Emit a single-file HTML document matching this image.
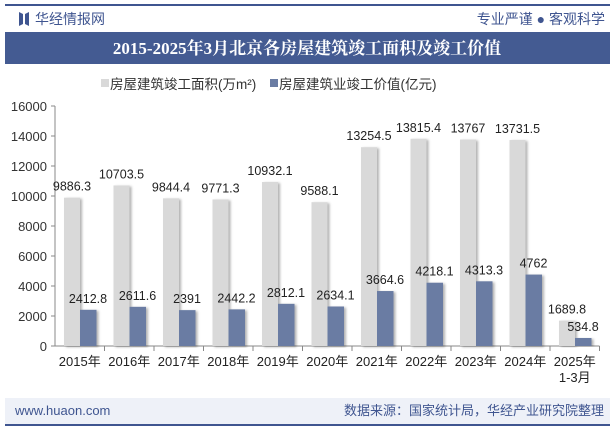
<!DOCTYPE html>
<html><head><meta charset="utf-8"><style>
body{margin:0;width:615px;height:427px;overflow:hidden;background:#fff;font-family:"Liberation Sans","Noto Sans CJK SC",sans-serif;}
</style></head><body>
<svg width="615" height="427" xmlns="http://www.w3.org/2000/svg">
<defs><filter id="sh" x="-20%" y="-5%" width="160%" height="110%"><feDropShadow dx="2" dy="1" stdDeviation="1.2" flood-color="#000" flood-opacity="0.3"/></filter></defs>
<rect x="5" y="4" width="605" height="2" fill="#3f5590"/>
<g><path d="M19 12 L23 14 L23 24 L19 26 Z M25 14 L29 12 L29 26 L25 24 Z" fill="#3f5590"/></g>
<text x="35" y="24" font-size="14" fill="#3f5590">华经情报网</text>
<text x="605" y="24" font-size="14" fill="#3f5590" text-anchor="end">专业严谨 ● 客观科学</text>
<rect x="5" y="32" width="605" height="32" fill="#445b92"/>
<text x="307" y="54" font-size="17" font-weight="bold" fill="#fff" text-anchor="middle" font-family="Liberation Serif,'Noto Serif CJK SC',serif">2015-2025年3月北京各房屋建筑竣工面积及竣工价值</text>
<g>
<rect x="101" y="79" width="8" height="8" fill="#d9d9d9"/>
<text x="110" y="89" font-size="13.5" fill="#333">房屋建筑竣工面积(万m²)</text>
<rect x="270" y="79" width="8" height="8" fill="#6a7ca3"/>
<text x="279" y="89" font-size="13.5" fill="#333">房屋建筑业竣工价值(亿元)</text>
</g>
<g id="plot"></g>
<rect x="5" y="398" width="605" height="26" fill="#eef1f8"/>
<text x="15" y="415" font-size="13" fill="#3f5590">www.huaon.com</text>
<text x="604" y="415" font-size="13" fill="#3f5590" text-anchor="end">数据来源：国家统计局，华经产业研究院整理</text>
<rect x="5" y="424" width="605" height="2" fill="#3f5590"/>
</svg>
<script>
const categories=["2015年","2016年","2017年","2018年","2019年","2020年","2021年","2022年","2023年","2024年","2025年|1-3月"];
const areaValues=[9886.3,10703.5,9844.4,9771.3,10932.1,9588.1,13254.5,13815.4,13767,13731.5,1689.8];
const valueValues=[2412.8,2611.6,2391,2442.2,2812.1,2634.1,3664.6,4218.1,4313.3,4762,534.8];
const yTicks=[0,2000,4000,6000,8000,10000,12000,14000,16000];
const NS="http://www.w3.org/2000/svg";
const g=document.getElementById('plot');
const x0=55,cw=49.5,y0=346,yMax=16000,yH=240;
const y=v=>y0-v/yMax*yH;
function mk(t,a,txt){const e=document.createElementNS(NS,t);for(const k in a)e.setAttribute(k,a[k]);if(txt!==undefined)e.textContent=txt;g.appendChild(e);return e;}
let ax=mk('line',{x1:x0,y1:y(yMax),x2:x0,y2:y0,stroke:'#888'});


let xa=mk('line',{x1:x0,y1:y0,x2:x0+cw*categories.length,y2:y0,stroke:'#888'});


yTicks.forEach(v=>{
 let tk=mk('line',{x1:x0-4,y1:y(v),x2:x0,y2:y(v),stroke:'#888'});
 
 
 let t=mk('text',{x:x0-8,y:y(v)+5,'font-size':13,fill:'#333','text-anchor':'end'},String(v));
 
 
});
categories.forEach((c,i)=>{
 const cx=x0+i*cw;
 let tk=mk('line',{x1:cx+cw,y1:y0,x2:cx+cw,y2:y0+5,stroke:'#888'});
 
 
 const a=areaValues[i],b=valueValues[i];
 let r1=mk('rect',{x:cx+9,y:y(a),width:16,height:y0-y(a),fill:'#d9d9d9',filter:'url(#sh)'});
 
 
 let r2=mk('rect',{x:cx+25,y:y(b),width:16.5,height:y0-y(b),fill:'#6a7ca3',filter:'url(#sh)'});
 
 
 let l1=mk('text',{x:cx+17,y:y(a)-7,'font-size':12.5,fill:'#222','text-anchor':'middle'},String(a));
 
 
 let l2=mk('text',{x:cx+33,y:y(b)-7,'font-size':12.5,fill:'#222','text-anchor':'middle'},String(b));
 
 
 c.split('|').forEach((s,j)=>{
  let t=mk('text',{x:cx+cw/2,y:y0+20+j*16,'font-size':13,fill:'#222','text-anchor':'middle'},s);
  
  
 });
});
</script>
</body></html>
